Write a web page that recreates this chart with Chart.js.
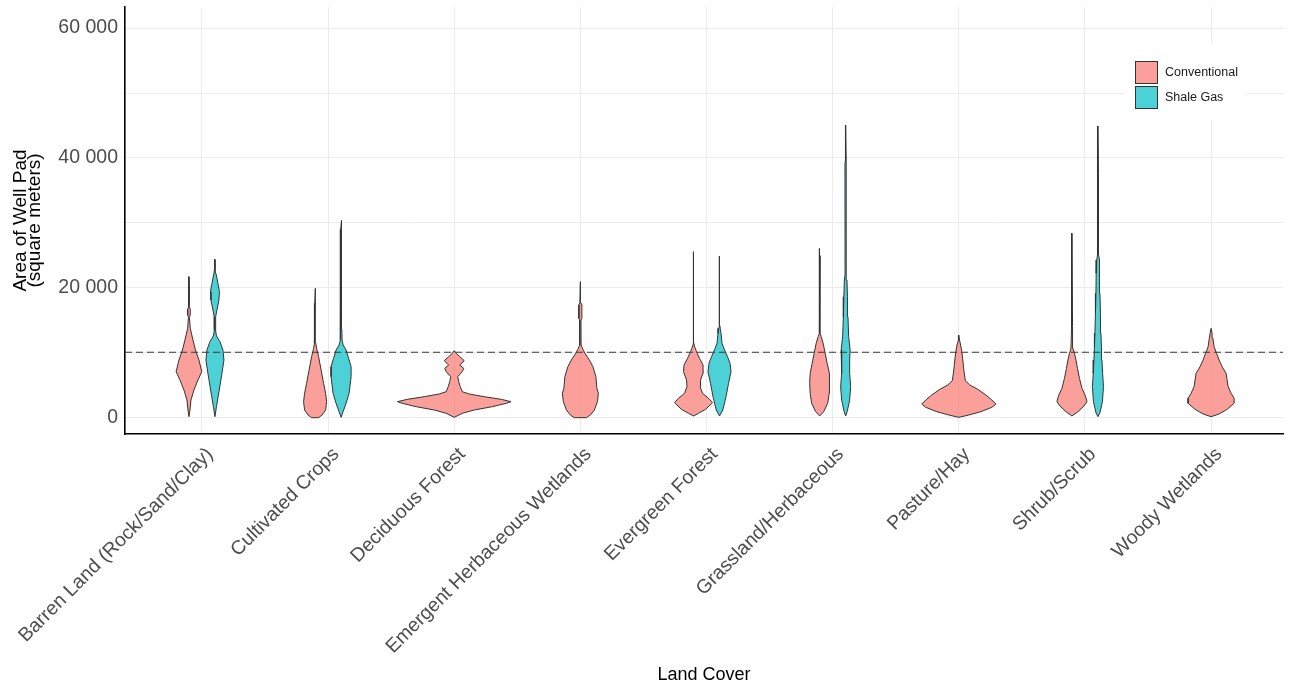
<!DOCTYPE html>
<html>
<head>
<meta charset="utf-8">
<script src="https://cdn.jsdelivr.net/npm/chart.js@4.4.1/dist/chart.umd.min.js"></script>
<style>
  html, body { margin: 0; padding: 0; background: #fff; }
</style>
</head>
<body>
<canvas id="violinChart" width="1291" height="688"></canvas>
<script>
// Land cover classes along the x axis
const landCover = [
  "Barren Land (Rock/Sand/Clay)", "Cultivated Crops", "Deciduous Forest",
  "Emergent Herbaceous Wetlands", "Evergreen Forest", "Grassland/Herbaceous",
  "Pasture/Hay", "Shrub/Scrub", "Woody Wetlands"
];

// Violin outlines: [well pad area (m2), half width of the density]
const barrenConv = [[200,0],[1230,1],[2770,2],[4300,5],[5850,9],[7130,12.8],[8920,10],[10460,6.5],[12000,4],[13800,1.3],[15490,0.5],[15850,1.3],[16720,1.3],[17130,0.4],[20000,0.4],[21740,0]];
const barrenShale = [[200,0],[1740,1.5],[4300,4.3],[6870,7],[8920,9],[10460,8],[11740,5],[12620,1.5],[13540,0.6],[15590,0.7],[16620,2],[18150,4],[19440,4.5],[20720,3],[22260,1],[23280,0.4],[24410,0]];
const cropsConv = [[50,3.5],[460,7],[1230,10.5],[2510,11.5],[3800,10.5],[5330,8.5],[7380,6],[9430,3.5],[10720,1.5],[11490,0.7],[17380,0.6],[17640,0.3],[19950,0]];
const cropsShale = [[100,0],[970,2],[2260,5],[3800,8],[6360,10],[7900,10],[9180,7.5],[10460,5],[11230,2],[12000,1],[13540,0.8],[17120,0.5],[23800,0.4],[24500,0.8],[28000,0.8],[29000,0.4],[30400,0]];
const decidConv = [[100,0],[720,8],[1230,20],[1740,38],[2260,52],[2510,56.7],[2870,47],[3280,30],[3690,15],[4050,8],[4820,6],[5590,4.5],[6360,3.5],[7130,8],[7640,9.5],[8150,5.5],[8820,10],[9430,5.5],[9950,2],[10360,0]];
const emergConv = [[50,6],[460,10],[1230,14],[2510,17],[3800,18],[4570,16.5],[6360,15.5],[7900,12.5],[8920,9],[9850,5],[10570,2.5],[11230,0.7],[15080,0.6],[15330,1.5],[17380,1.5],[17740,0.5],[20970,0]];
const evergConv = [[310,0],[720,5],[1330,12],[2360,19],[3030,15],[3800,9],[4820,6.5],[5850,7],[7130,10],[8150,9.5],[9180,6],[10200,3],[11080,0.8],[11500,0.4],[25000,0.4],[25590,0]];
const evergShale = [[310,0],[1230,3.3],[3280,6.5],[5330,9],[7130,11.5],[8410,10.5],[9430,8],[10460,5],[11490,2.5],[13030,1.5],[13800,0.7],[14200,0.4],[24920,0]];
const grassConv = [[310,0],[970,4],[2260,8],[3800,9.5],[5330,10],[6870,9.5],[8410,7.5],[9950,5.5],[11490,3.5],[12510,1.5],[13030,0.6],[24820,0.5],[25000,0.3],[26100,0]];
const grassShale = [[310,0],[970,1.5],[2770,4],[4820,5],[6870,4],[8920,4],[10460,4.5],[12510,3],[15590,2.3],[18660,1.8],[21230,1.3],[22000,0.6],[39180,0.7],[39690,0.35],[45070,0]];
const pastureConv = [[100,0],[460,10],[970,22],[1640,33],[2150,37],[2770,33],[3540,27],[4410,19],[5080,11],[5740,6.5],[7380,5],[8920,4],[10200,3],[11230,1.8],[12000,0.7],[12770,0]];
const shrubConv = [[310,0],[970,6],[1850,12],[2510,15],[3380,13.5],[4570,10],[6100,7.5],[7640,5.5],[8920,4],[9950,2.5],[10720,1],[13800,0.8],[14050,0.4],[28410,0]];
const shrubShale = [[200,0],[820,2],[2510,4.5],[4820,5.5],[6870,4.7],[8920,4],[10970,3.5],[13030,3],[16110,2.5],[19180,2],[22260,1.8],[24310,1.2],[25080,0.7],[37380,0.7],[37640,0.4],[44920,0]];
const woodyConv = [[200,0],[620,8],[1330,16],[2260,23],[3030,23],[3800,20],[4820,17],[5850,16],[6870,15],[7900,11],[8920,8],[9950,5.5],[10970,3],[12260,1.8],[13030,1],[13800,0]];

// One entry per land cover class; null where the well type is absent
const conventional = [barrenConv, cropsConv, decidConv, emergConv, evergConv, grassConv, pastureConv, shrubConv, woodyConv];
const shaleGas = [barrenShale, cropsShale, null, null, evergShale, grassShale, null, shrubShale, null];

// 2.5 acre reference line (m2)
const padLimit = 10117;

// y axis ticks every 10 000, labelled every 20 000
const yTicks = [0, 10000, 20000, 30000, 40000, 50000, 60000];

const xMin = 0.39, xMax = 9.57;
const yMin = -2462, yMax = 63231;
const widthScale = 1 / 126;  // density width -> category units
const dodge = 0.103;

const convFill = "rgba(248,118,109,0.7)";
const shaleFill = "rgba(0,191,196,0.7)";
const outline = "#333333";
const font = "'Liberation Sans', Arial, sans-serif";

function violinPoints(profile, centre) {
  const right = profile.map(p => ({ x: centre + p[1] * widthScale, y: p[0] }));
  const left = profile.slice().reverse().map(p => ({ x: centre - p[1] * widthScale, y: p[0] }));
  return right.concat(left, [right[0]]);
}

function violinDataset(profile, centre, fill) {
  return {
    data: violinPoints(profile, centre),
    showLine: true,
    fill: "shape",
    backgroundColor: fill,
    borderColor: outline,
    borderWidth: 1,
    borderJoinStyle: "round",
    pointRadius: 0,
    pointHoverRadius: 0,
    tension: 0,
    order: 2
  };
}

const datasets = [{
  data: [{ x: xMin, y: padLimit }, { x: xMax, y: padLimit }],
  showLine: true,
  fill: false,
  borderColor: "#3a3a3a",
  borderWidth: 1.2,
  borderDash: [7, 4],
  pointRadius: 0,
  order: 0
}];

landCover.forEach((name, i) => {
  const c = i + 1;
  const conv = conventional[i];
  const shale = shaleGas[i];
  if (conv && shale) {
    datasets.push(violinDataset(conv, c - dodge, convFill));
    datasets.push(violinDataset(shale, c + dodge, shaleFill));
  } else if (conv) {
    datasets.push(violinDataset(conv, c, convFill));
  } else if (shale) {
    datasets.push(violinDataset(shale, c, shaleFill));
  }
});

// Legend keys drawn inside the panel, top right
const keyLegend = {
  id: "keyLegend",
  afterDraw(chart) {
    const { ctx, chartArea } = chart;
    const x0 = chartArea.right - 148;
    const y0 = chartArea.top + 54;
    const entries = [["Conventional", convFill], ["Shale Gas", shaleFill]];
    ctx.save();
    ctx.fillStyle = "#ffffff";
    ctx.fillRect(x0 - 10, y0 - 18, 122, 77);
    entries.forEach((e, k) => {
      const by = y0 + k * 25;
      ctx.fillStyle = "#ffffff";
      ctx.fillRect(x0, by, 23, 23);
      ctx.fillStyle = e[1];
      ctx.fillRect(x0, by, 23, 23);
      ctx.strokeStyle = outline;
      ctx.lineWidth = 1;
      ctx.strokeRect(x0 + 0.5, by + 0.5, 22, 22);
      ctx.fillStyle = "#1a1a1a";
      ctx.font = "12.5px " + font;
      ctx.textBaseline = "middle";
      ctx.textAlign = "left";
      ctx.fillText(e[0], x0 + 30, by + 12);
    });
    ctx.restore();
  }
};

new Chart(document.getElementById("violinChart"), {
  type: "scatter",
  data: { datasets },
  options: {
    responsive: false,
    animation: false,
    events: [],
    layout: { padding: { top: 7, right: 8, left: 0, bottom: 0 } },
    plugins: {
      legend: { display: false },
      tooltip: { enabled: false }
    },
    scales: {
      x: {
        type: "linear",
        min: xMin,
        max: xMax,
        afterFit: s => {
          s.height = 254;
          s.paddingLeft = 0; s.paddingRight = 0;
        },
        border: { display: true, color: "#000000", width: 1.6 },
        grid: { color: "#ebebeb", lineWidth: 1, drawTicks: false },
        ticks: {
          stepSize: 1,
          includeBounds: false,
          autoSkip: false,
          minRotation: 45,
          maxRotation: 45,
          padding: 9,
          labelOffset: 8,
          color: "#4d4d4d",
          font: { family: font, size: 19.5 },
          callback: v => landCover[v - 1] || ""
        },
        title: {
          display: true,
          text: "Land Cover",
          color: "#000000",
          font: { family: font, size: 18 },
          padding: { top: 0, bottom: 2 }
        }
      },
      y: {
        type: "linear",
        min: yMin,
        max: yMax,
        afterFit: s => {
          s.width = 125;
          s.paddingTop = 0; s.paddingBottom = 0;
        },
        afterBuildTicks: s => { s.ticks = yTicks.map(v => ({ value: v })); },
        border: { display: true, color: "#000000", width: 1.6 },
        grid: { color: "#ebebeb", lineWidth: 1, drawTicks: false },
        ticks: {
          padding: 7,
          color: "#4d4d4d",
          font: { family: font, size: 19.5 },
          callback: v => v % 20000 !== 0 ? "" : (v === 0 ? "0" : (v / 1000) + " 000")
        },
        title: {
          display: true,
          text: ["Area of Well Pad", "(square meters)"],
          color: "#000000",
          font: { family: font, size: 19, lineHeight: 0.78 },
          padding: { top: 13, bottom: 0 }
        }
      }
    }
  },
  plugins: [keyLegend]
});
</script>
</body>
</html>
